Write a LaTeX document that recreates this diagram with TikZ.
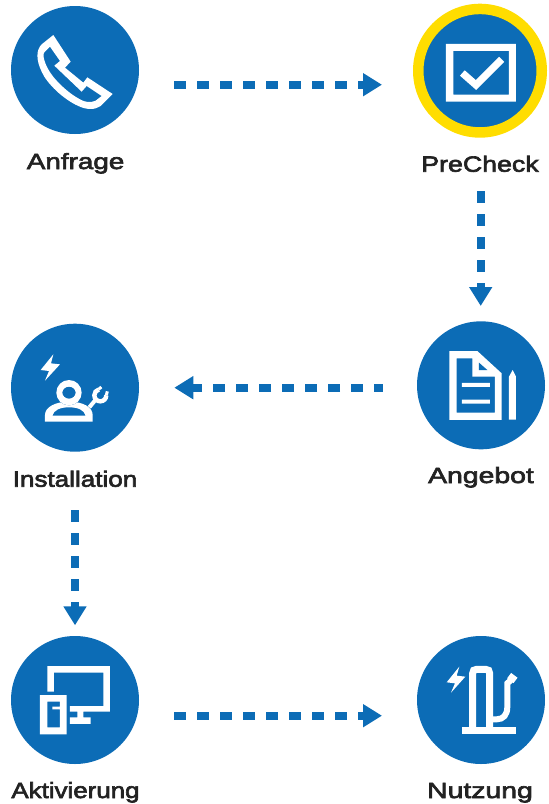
\documentclass[tikz,border=0pt]{standalone}
\usepackage{graphicx}
\usepackage{fontspec}
\setmainfont{Liberation Sans}
\newfontfamily\lab[FakeStretch=1.24,FakeBold=3]{Liberation Sans}
\usetikzlibrary{arrows.meta}
\definecolor{fb}{HTML}{0C6CB6}
\definecolor{fy}{HTML}{FFDD00}
\definecolor{ft}{HTML}{222222}
\tikzset{
  disc/.style={circle,fill=fb,minimum size=128pt,inner sep=0pt,outer sep=0pt},
  ringdisc/.style={circle,fill=fb,draw=fy,line width=10.5pt,minimum size=123.5pt,inner sep=0pt,outer sep=5.25pt},
  lbl/.style={anchor=base,inner sep=0pt,text=ft,font=\lab\fontsize{22}{26}\selectfont},
  flow/.style={draw=fb,line width=7.7pt,dash pattern=on 11.7pt off 11.3pt,-{Triangle[length=19pt,width=22pt,fill=fb]}},
  wf/.style={fill=white,even odd rule},
  ws/.style={draw=white,line cap=butt,line join=miter}
}
\begin{document}
\begin{tikzpicture}[x=1pt,y=-1pt]
\useasboundingbox (0,0) rectangle (549,804);
\node[disc] (anfrage) at (75,70) {};
\node[ringdisc] (precheck) at (480,70.7) {};
\node[disc] (installation) at (75,387.7) {};
\node[disc] (angebot) at (481,385.3) {};
\node[disc] (aktivierung) at (75,700) {};
\node[disc] (nutzung) at (481,700) {};
\node[lbl] (t1) at (75.6,169) {\scalebox{1.02}[1]{Anfrage}};
\node[lbl] (t2) at (480,171.7) {\scalebox{.98}[1]{PreCheck}};
\node[lbl] (t3) at (75,486.7) {\scalebox{.955}[1]{Installation}};
\node[lbl] (t4) at (481,483) {\scalebox{1.04}[1]{Angebot}};
\node[lbl] (t5) at (75.5,798) {\scalebox{.95}[1]{Aktivierung}};
\node[lbl] (t6) at (480,798) {\scalebox{1.04}[1]{Nutzung}};
% connectors
\draw[flow,shorten <=35pt,shorten >=31pt] ([yshift=-14.7pt]anfrage.east) -- ([yshift=-14pt]precheck.west);
\draw[flow,shorten <=53.3pt,shorten >=15.3pt] ([xshift=.7pt]precheck.south) -- ([xshift=-.3pt]angebot.north);
\draw[flow,dash phase=3.3pt,shorten <=34.3pt,shorten >=35.3pt] ([yshift=-2.4pt]angebot.west) -- (installation.east);
\draw[flow,shorten <=58.3pt,shorten >=10.7pt] (installation.south) -- (aktivierung.north);
\draw[flow,shorten <=35pt,shorten >=35pt] ([yshift=-15.7pt]aktivierung.east) -- ([yshift=-15.7pt]nutzung.west);
% phone
\begin{scope}[x=.3333pt,y=-.3333pt]
\fill[wf] (160,105) -- (212,185) -- (195,203) -- (250,248) -- (262,232) -- (338,282) -- (302,318)
  .. controls (285,330) and (260,330) .. (235,318)
  .. controls (190,298) and (140,250) .. (125,215)
  .. controls (108,180) and (108,150) .. (125,133) -- cycle
  (150,140) -- (180,183) -- (163,197) -- (245,275) -- (260,258) -- (305,288) -- (287,302)
  .. controls (272,309) and (255,307) .. (240,298)
  .. controls (205,280) and (160,238) .. (143,205)
  .. controls (130,180) and (128,160) .. (133,157) -- cycle;
\end{scope}
% check box
\begin{scope}[shift={(400,0)},x=.3333pt,y=-.3333pt]
\fill[wf] (138,132) rectangle (348,305) (160,153) rectangle (327,284);
\draw[ws,line width=7.2pt] (187,219) -- (228,255) -- (305,178);
\end{scope}
% installation
\begin{scope}[shift={(0,320)},x=.3333pt,y=-.3333pt]
\fill[white] (160,103) -- (122,150) -- (147,153) -- (135,182) -- (180,133) -- (153,130) -- cycle;
\fill[wf] (135,305) -- (135,285) .. controls (135,262) and (165,245) .. (207,245)
  .. controls (250,245) and (278,262) .. (278,285) -- (278,305) -- cycle
  (157,287) -- (257,287) .. controls (252,270) and (235,262) .. (207,262) .. controls (180,262) and (162,270) .. (157,287) -- cycle;
\fill[fb] (207,218) ellipse [x radius=38,y radius=38];
\fill[wf] (207,218) ellipse [x radius=38,y radius=38] (207,218) ellipse [x radius=20,y radius=18];
\draw[ws,line width=4pt] (268,262) -- (288,238);
\draw[ws,line width=4.4pt] (301,226) ++(0:18) arc[start angle=0,end angle=255,radius=18];
\draw[ws,line width=3pt] (319,226) -- (322,214);
\draw[ws,line width=3pt] (296,208) -- (304,201);
\end{scope}
% document
\begin{scope}[shift={(400,315)},x=.3333pt,y=-.3333pt]
\fill[wf] (148,108) -- (232,108) -- (305,175) -- (305,315) -- (148,315) -- cycle
  (170,130) -- (217,130) -- (217,185) -- (285,185) -- (285,293) -- (170,293) -- cycle;
\fill[fb] (237,143) -- (262,165) -- (237,165) -- cycle;
\fill[white] (186,204) rectangle (270,216) (186,254) rectangle (270,266);
\fill[white] (327,314) -- (348,314) -- (348,185) -- (338,165) -- (327,185) -- cycle;
\end{scope}
% monitor
\begin{scope}[shift={(0,630)},x=.3333pt,y=-.3333pt]
\fill[white] (142,185) -- (142,108) -- (330,108) -- (330,245) -- (250,245) -- (250,262) -- (272,262) -- (272,282) -- (210,282) -- (210,262) -- (232,262) -- (232,245) -- (210,245) -- (210,228) -- (310,228) -- (310,128) -- (162,128) -- (162,185) -- cycle;
\fill[wf] (120,195) rectangle (200,313)
  (142,215) -- (180,215) -- (180,230) -- (157,230) -- (157,238) -- (180,238) -- (180,292) -- (142,292) -- cycle;
\end{scope}
% charger
\begin{scope}[shift={(400,630)},x=.3333pt,y=-.3333pt]
\fill[white] (178,110) -- (140,157) -- (165,160) -- (153,188) -- (196,140) -- (170,137) -- cycle;
\fill[white] (185,292) rectangle (348,312);
\draw[ws,line width=7pt] (218,295) -- (218,130) .. controls (218,122) and (222,118) .. (230,118) -- (257,118) .. controls (265,118) and (269,122) .. (269,130) -- (269,295);
\draw[ws,line width=6pt] (275,268) -- (290,268) .. controls (310,268) and (322,255) .. (322,230) -- (322,160) -- (335,148);
\draw[ws,line width=8pt] (331,152) -- (343,136);
\end{scope}
\end{tikzpicture}
\end{document}
